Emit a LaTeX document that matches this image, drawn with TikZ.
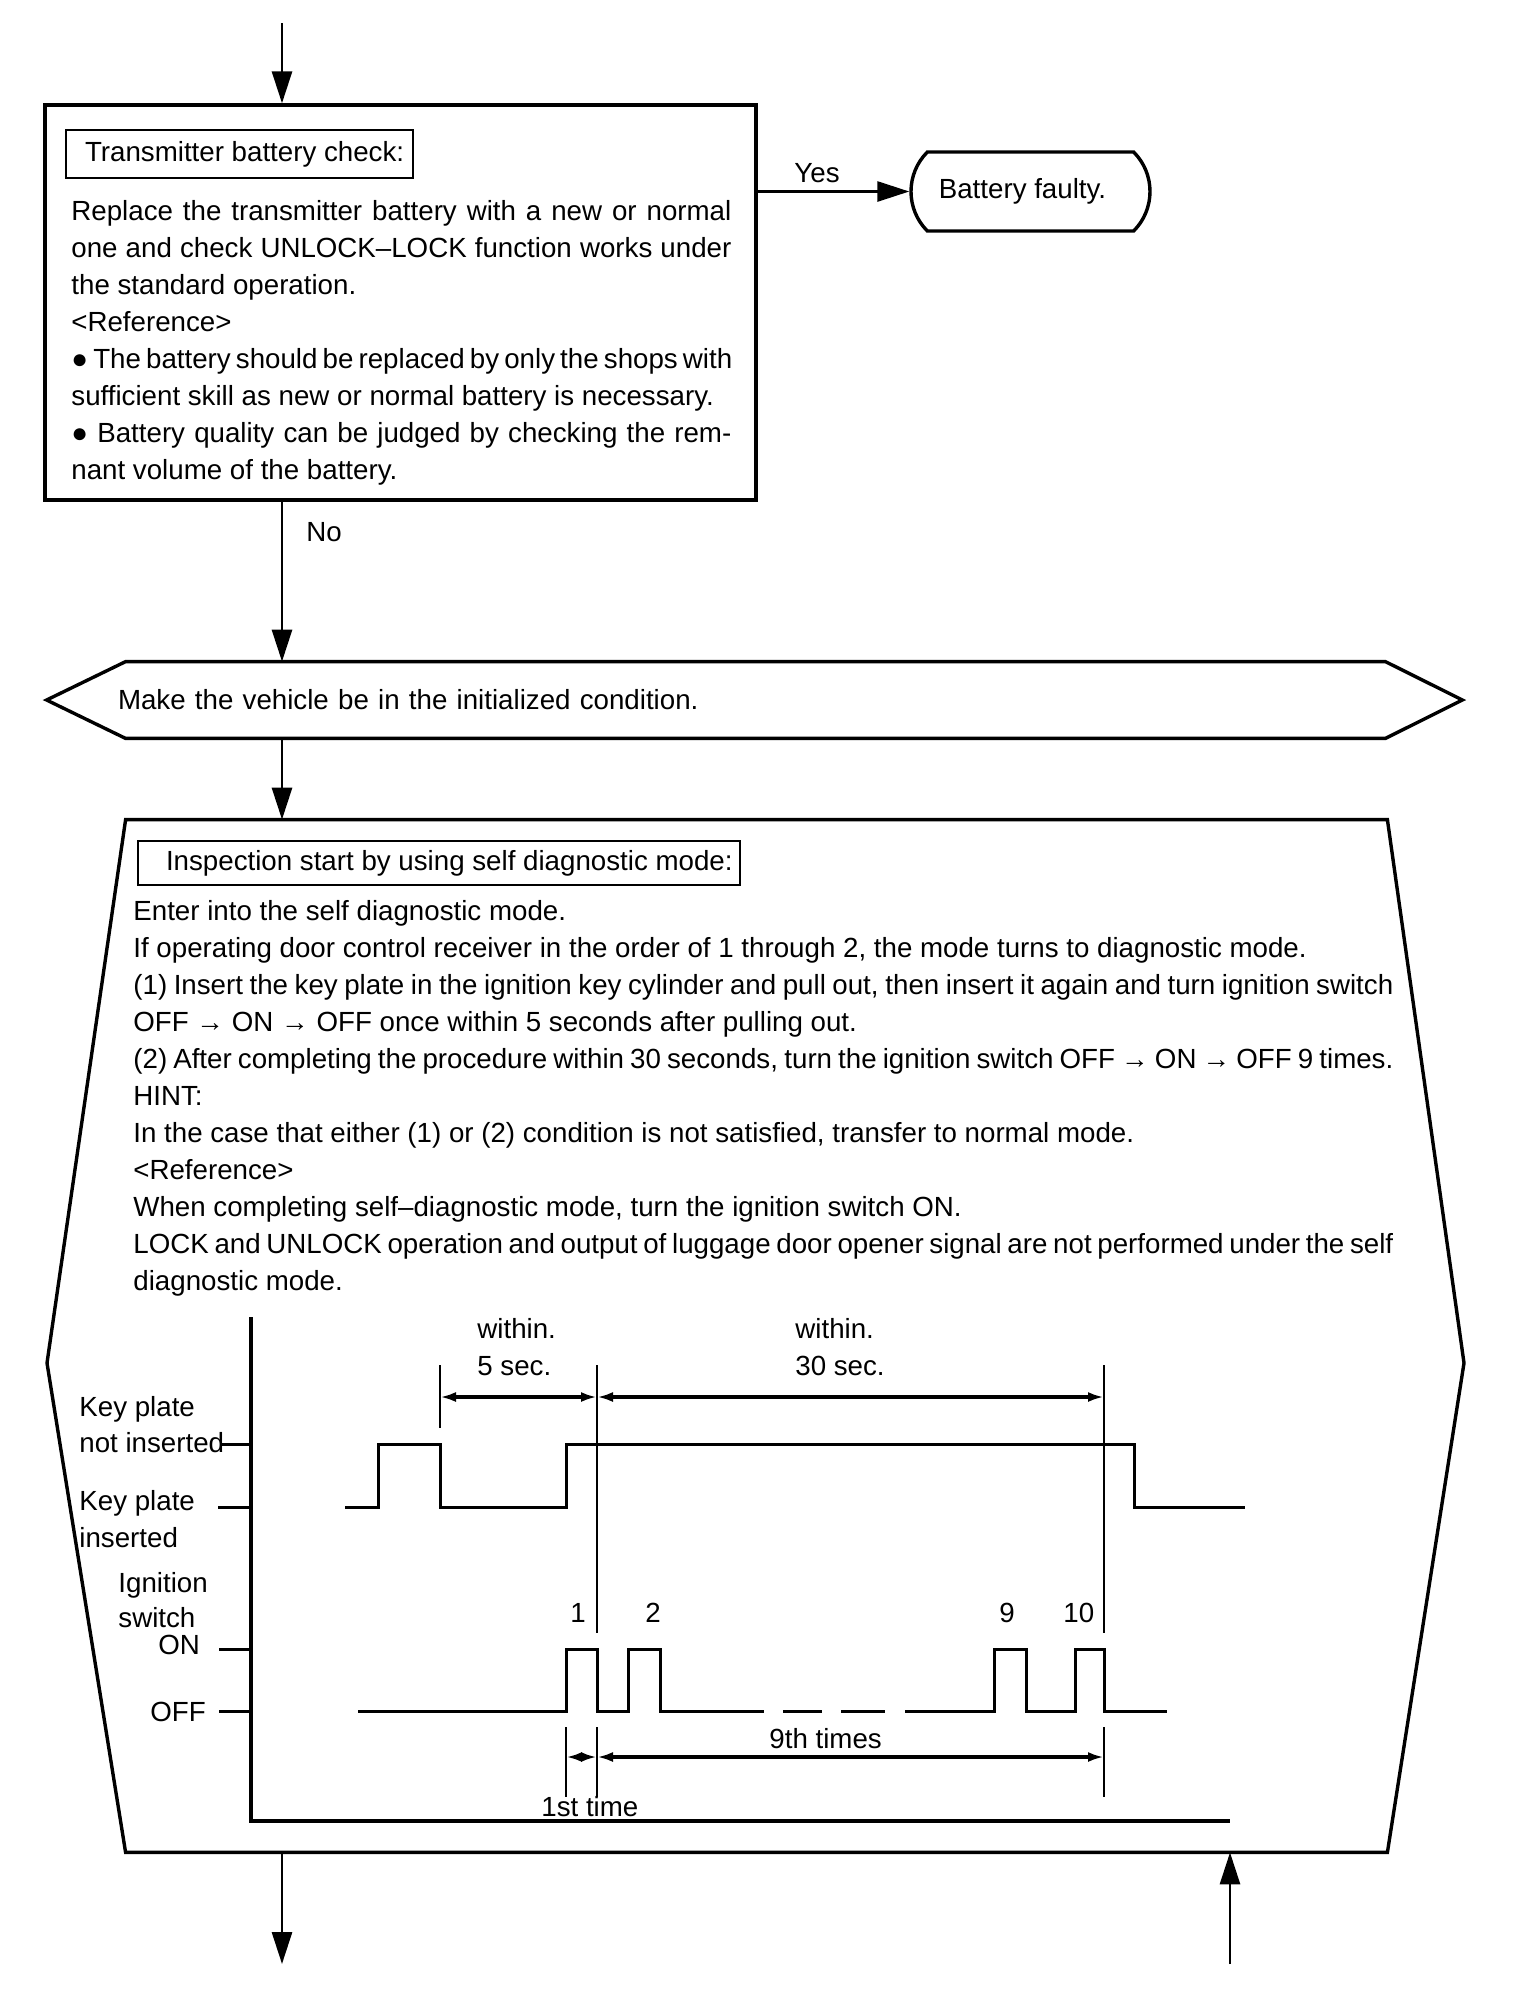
\documentclass[tikz,border=0pt]{standalone}
\usepackage{fontspec}
\setmainfont{Liberation Sans}
\usetikzlibrary{arrows.meta,shapes.misc}
\newcommand{\jbox}[2]{\makebox[#1][s]{#2}}
\begin{document}
\begin{tikzpicture}[x=0.5pt,y=-0.5pt,
  every node/.style={font=\fontsize{13.85pt}{18.5pt}\selectfont, inner sep=0pt},
  flow/.style={line width=1.4pt, -{Triangle[length=16pt,width=10pt]}},
  boxline/.style={line width=1.7pt},
  titlebox/.style={draw, line width=1pt, anchor=north west, inner sep=0pt},
  wave/.style={line width=1.5pt},
  marker/.style={line width=1.3pt},
  dimarrow/.style={line width=1.6pt, {Latex[length=8pt,width=5pt]}-{Latex[length=8pt,width=5pt]}},
  txt/.style={anchor=base west},
]
\fill[white] (0,0) rectangle (1520,2010);
\useasboundingbox (0,0) rectangle (1520,2010);

% ---- Transmitter battery check box
\node[draw, boxline, minimum width=355.5pt, minimum height=197.5pt] (box1) at (400.5,302.5) {};
\node[titlebox, minimum height=24pt] (title1) at (65,129) {\makebox[173.5pt][l]{\hspace*{9.5pt}Transmitter battery check:}};
\node[txt, align=left] (body1) at (71,479) {\jbox{330pt}{Replace the transmitter battery with a new or normal}\\
\jbox{330pt}{one and check UNLOCK–LOCK function works under}\\
the standard operation.\\
<Reference>\\
\jbox{330pt}{● The battery should be replaced by only the shops with}\\
sufficient skill as new or normal battery is necessary.\\
\jbox{330pt}{● Battery quality can be judged by checking the rem-}\\
nant volume of the battery.};

\node[draw, boxline, rounded rectangle, rounded rectangle arc length=90, minimum width=119.5pt, minimum height=39.5pt] (battery) at (1030.5,191.5) {Battery faulty.\hspace*{8pt}};

\coordinate (tin) at (282,23);
\draw[flow] (tin) -- (box1.north -| tin);
\draw[flow] (box1.east |- battery.west) -- (battery.west);
\node[anchor=base] (yes) at (817,182) {Yes};

% ---- initialized condition
\node[minimum width=707.5pt, minimum height=38pt, text width=636.5pt, inner xsep=35.5pt, align=left] (init) at (754.5,700) {Make the vehicle be in the initialized condition.};
\draw[boxline] (init.west) -- ([xshift=39.5pt]init.north west) -- ([xshift=-38.5pt]init.north east) -- (init.east) -- ([xshift=-38.5pt]init.south east) -- ([xshift=39.5pt]init.south west) -- cycle;

\draw[flow] (box1.south -| tin) -- (init.north -| tin);
\node[txt] (no) at (306,541) {No};

% ---- inspection box
\node[minimum width=708.5pt, minimum height=516pt] (insp) at (755.5,1336) {};
\draw[boxline] ([xshift=39.5pt]insp.north west) -- ([xshift=-38.5pt]insp.north east) -- (1464,1363) -- ([xshift=-38.5pt]insp.south east) -- ([xshift=39.5pt]insp.south west) -- (47,1363) -- cycle;
\draw[flow] (init.south -| tin) -- (insp.north -| tin);

\node[titlebox, minimum height=22pt] (title2) at (137,840) {\makebox[301pt][l]{\hspace*{14pt}Inspection start by using self diagnostic mode:}};
\node[txt, align=left] (body2) at (133,1290) {Enter into the self diagnostic mode.\\
If operating door control receiver in the order of 1 through 2, the mode turns to diagnostic mode.\\
\jbox{630pt}{(1) Insert the key plate in the ignition key cylinder and pull out, then insert it again and turn ignition switch}\\
OFF → ON → OFF once within 5 seconds after pulling out.\\
\jbox{630pt}{(2) After completing the procedure within 30 seconds, turn the ignition switch OFF → ON → OFF 9 times.}\\
HINT:\\
In the case that either (1) or (2) condition is not satisfied, transfer to normal mode.\\
<Reference>\\
When completing self–diagnostic mode, turn the ignition switch ON.\\
\jbox{630pt}{LOCK and UNLOCK operation and output of luggage door opener signal are not performed under the self}\\
diagnostic mode.};

% ---- timing chart
\draw[line width=1.6pt] (251,1317) -- (251,1821) -- (1230,1821);
\draw[wave] (222,1444) -- (251,1444) (218,1507) -- (251,1507) (219,1649) -- (251,1649) (219,1711) -- (251,1711);

\node[txt] (kp1) at (79,1416) {Key plate};
\node[txt] (kp1b) at (79,1452) {not inserted};
\node[txt] (kp2) at (79,1510) {Key plate};
\node[txt] (kp2b) at (79,1547) {inserted};
\node[txt] (ign) at (118,1592) {Ignition};
\node[txt] (sw) at (118,1627) {switch};
\node[txt] (on) at (158,1654) {ON};
\node[txt] (off) at (150,1721) {OFF};

\node[txt] (w1) at (477,1338) {within.};
\node[txt] (s5) at (477,1375) {5 sec.};
\node[txt] (w2) at (795,1338) {within.};
\node[txt] (s30) at (795,1375) {30 sec.};

\node[txt] (n1) at (570,1622) {1};
\node[txt] (n2) at (645,1622) {2};
\node[txt] (n9) at (999,1622) {9};
\node[txt] (n10) at (1063,1622) {10};
\node[txt] (ninth) at (769,1748) {9th times};
\node[txt] (first) at (541,1816) {1st time};

\draw[wave] (345,1507) -- (378,1507) -- (378,1444) -- (440,1444) -- (440,1507) -- (566,1507) -- (566,1444) -- (1134,1444) -- (1134,1507) -- (1245,1507);
\draw[wave] (358,1711) -- (566,1711) -- (566,1649) -- (597,1649) -- (597,1711) -- (628,1711) -- (628,1649) -- (660,1649) -- (660,1711) -- (764,1711);
\draw[wave] (783,1711) -- (822,1711) (841,1711) -- (885,1711);
\draw[wave] (905,1711) -- (994,1711) -- (994,1649) -- (1026,1649) -- (1026,1711) -- (1075,1711) -- (1075,1649) -- (1104,1649) -- (1104,1711) -- (1167,1711);

\draw[marker] (440,1365) -- (440,1428) (597,1365) -- (597,1633) (597,1727) -- (597,1797) (566,1727) -- (566,1797) (1104,1365) -- (1104,1633) (1104,1727) -- (1104,1797);

\draw[dimarrow] (440,1397) -- (597,1397);
\draw[dimarrow] (597,1397) -- (1104,1397);
\draw[dimarrow] (566,1757) -- (597,1757);
\draw[dimarrow] (597,1757) -- (1104,1757);

% ---- exits
\coordinate (outL) at (282,1964);
\coordinate (inR) at (1230,1964);
\draw[flow] (insp.south -| tin) -- (outL);
\draw[flow] (inR) -- (insp.south -| inR);
\end{tikzpicture}
\end{document}
